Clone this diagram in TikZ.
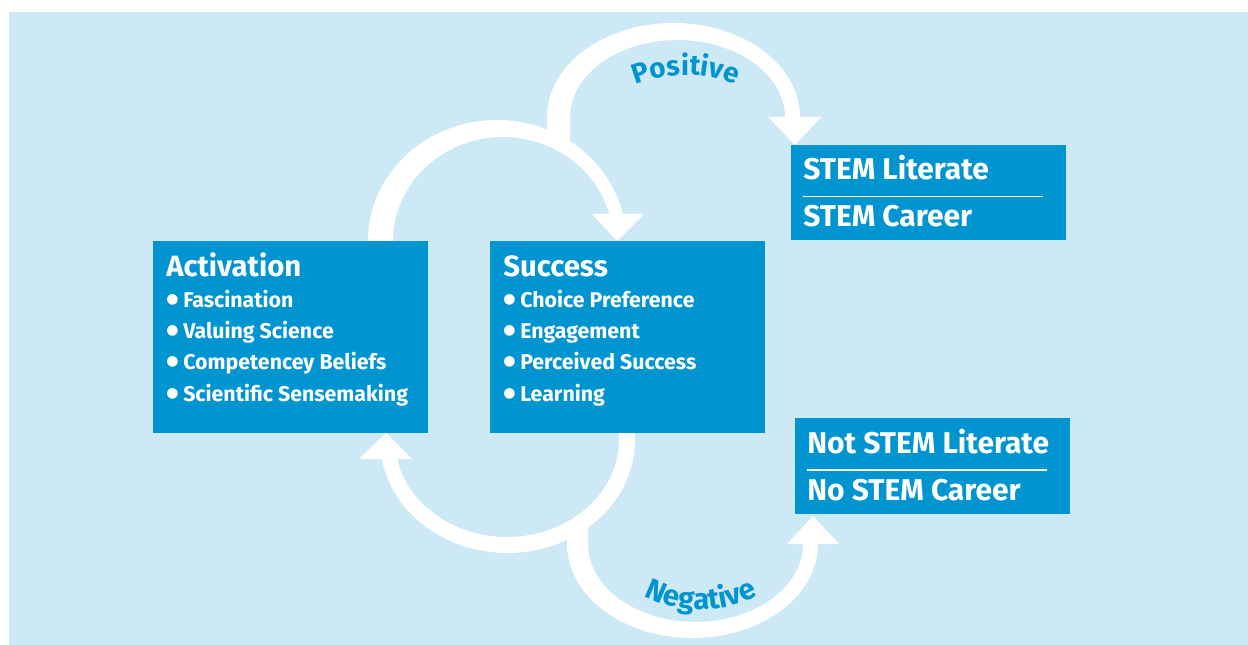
\documentclass[tikz,border=0pt]{standalone}
\usepackage{fontspec}
\setmainfont{Fira Sans}
\newfontfamily\symfont{DejaVu Sans}
\usetikzlibrary{decorations.text}
\definecolor{bgblue}{HTML}{CDE9F5}
\definecolor{boxblue}{HTML}{0094D0}
\newcommand\bul{\makebox[12.75pt][l]{\raisebox{2.4pt}{\symfont\fontsize{10.5}{11}\selectfont ●}}}
\begin{document}
\begin{tikzpicture}[x=0.75pt,y=-0.75pt,
  box/.style={fill=boxblue, draw=none, anchor=north west, inner sep=0pt, outer sep=0pt},
  bigbox/.style={box, minimum width=206.25pt, minimum height=144pt},
  outbox/.style={box, minimum width=206.25pt, minimum height=72pt},
  title/.style={anchor=base west, inner sep=0pt, text=white, font=\fontsize{22}{26}\selectfont\bfseries},
  item/.style={anchor=base west, inner sep=0pt, text=white, font=\fontsize{16}{19}\selectfont\bfseries},
  outcome/.style={anchor=base west, inner sep=0pt, text=white, font=\fontsize{22.5}{26}\selectfont\bfseries},
  flow/.style={fill=white, draw=none},
  sep/.style={draw=white, line width=1pt},
  ]
\useasboundingbox (0,0) rectangle (1248,645);
\fill[bgblue] (9,12) rectangle (1248,645);

% Activation -> Success (top loop)
\fill[flow] plot[domain=180:12.9, samples=60] ({497+129*cos(\x)}, {241-121*sin(\x)})
  -- plot[domain=15.05:180, samples=60] ({503+110*cos(\x)}, {241-104*sin(\x)}) -- cycle;
\fill[flow] (592,214) -- (644,214) -- (617,241) -- cycle;

% Positive
\fill[flow] (547,145) -- plot[domain=180:0, samples=60] ({673.5+126.5*cos(\x)}, {117-94*sin(\x)})
  -- plot[domain=0:180, samples=60] ({677.5+107.5*cos(\x)}, {117-77*sin(\x)}) -- (570,145) -- cycle;
\fill[flow] (768,117) -- (821,117) -- (795,145) -- cycle;

% Success -> Activation (bottom loop)
\fill[flow] plot[domain=-5:170.3, samples=60] ({507.5+127.5*cos(\x)}, {440+113*sin(\x)})
  -- plot[domain=168.7:-5, samples=60] ({507+112*cos(\x)}, {440+97*sin(\x)}) -- cycle;
\fill[flow] (359,459) -- (412,459) -- (386,433) -- cycle;

% Negative
\fill[flow] (567,525) -- plot[domain=180:0, samples=60] ({692.5+125.5*cos(\x)}, {544+94*sin(\x)})
  -- plot[domain=0:180, samples=60] ({695.5+107.5*cos(\x)}, {544+78*sin(\x)}) -- (588,525) -- cycle;
\fill[flow] (787,544) -- (839,544) -- (813,516) -- cycle;

% curved labels
\path[decorate, decoration={text along path, text align=center,
  text={|\fontsize{21}{24}\selectfont\bfseries\color{boxblue}|Positive}}]
  plot[domain=130:50, samples=40] ({686+130*cos(\x)}, {205-130*sin(\x)});
\path[decorate, decoration={text along path, text align=center,
  text={|\fontsize{22}{24}\selectfont\bfseries\color{boxblue}|Negative}}]
  plot[domain=125:55, samples=40] ({701+120*cos(\x)}, {490+120*sin(\x)});

% boxes
\node[bigbox] (act) at (153,241) {};
\node[bigbox] (suc) at (490,241) {};
\node[box, minimum width=206.25pt, minimum height=71.25pt] (lit) at (791,145) {};
\node[outbox] (nlit) at (795,418) {};

% Activation text
\node[title] (actT) at (166,276) {Activation};
\node[item] (act1) at (166,307) {\bul Fascination};
\node[item] (act2) at (166,338) {\bul Valuing Science};
\node[item] (act3) at (166,369) {\bul Competencey Beliefs};
\node[item] (act4) at (166,401) {\bul Scientific Sensemaking};

% Success text
\node[title] (sucT) at (503,276) {Success};
\node[item] (suc1) at (503,307) {\bul Choice Preference};
\node[item] (suc2) at (503,338) {\bul Engagement};
\node[item] (suc3) at (503,369) {\bul Perceived Success};
\node[item] (suc4) at (503,401) {\bul Learning};

% outcomes
\node[outcome] (lit1) at (803,180) {STEM Literate};
\node[outcome] (lit2) at (803,227) {STEM Career};
\draw[sep] (803,196.7) -- (1043,196.7);
\node[outcome] (nlit1) at (807,453) {Not STEM Literate};
\node[outcome] (nlit2) at (807,500) {No STEM Career};
\draw[sep] (807,470) -- (1047,470);
\end{tikzpicture}
\end{document}
